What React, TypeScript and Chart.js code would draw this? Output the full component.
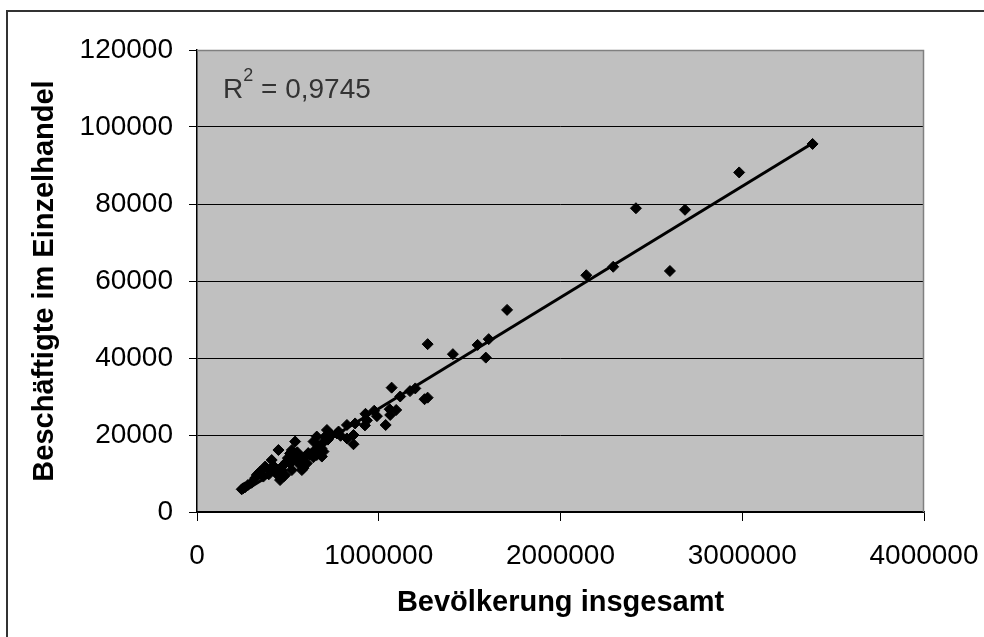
import React, { useEffect, useRef } from "react";
import { Chart, registerables } from "chart.js";

Chart.register(...registerables);

// Bevölkerung insgesamt (x) and Beschäftigte im Einzelhandel (y)
const bevoelkerung = [
  3387000, 2983000, 2415000, 2685000, 2602000, 2290000, 2142000, 1706000,
  1605000, 1544000, 1589000, 1408000, 1269000, 1071000, 1118000, 1172000,
  1201000, 1252000, 1269000, 927000, 975000, 990000, 924000, 1038000,
  1060000, 1096000, 1063000, 870000, 825000, 861000, 861000, 825000,
  770000, 715000, 705000, 659000, 641000, 696000, 659000, 595000,
  586000, 540000, 512000, 494000, 448000, 457000, 411000, 402000,
  338000, 320000, 255000, 246000, 264000, 467000, 567000, 522000,
  476000, 485000, 577000, 365000, 512000, 558000, 522000, 687000,
  375000, 476000, 604000, 329000, 347000, 300000, 280000, 430000,
  440000, 530000, 620000, 650000, 670000, 700000, 740000, 779000,
  935000, 612000, 580000, 395000, 420000, 500000, 552000, 640000,
  685000, 720000, 790000,
];
const beschaeftigte = [
  95600, 88200, 78900, 78500, 62600, 63700, 61500, 52500,
  44900, 43400, 40100, 41000, 43600, 32300, 30000, 31400,
  32100, 29300, 29700, 25500, 26300, 24900, 22500, 22600,
  26700, 26500, 25200, 23000, 22600, 20000, 17600, 19100,
  20400, 21300, 19600, 19600, 18300, 15700, 14800, 14400,
  11400, 18300, 15200, 13100, 16100, 8300, 13500, 10900,
  10000, 8800, 6200, 5900, 6400, 10900, 12200, 10900,
  9200, 9600, 10900, 9200, 12600, 13100, 16100, 14400,
  11800, 12200, 12600, 9600, 10500, 7600, 7000, 11300,
  9800, 13800, 14900, 16100, 17000, 18300, 20000, 20900,
  23800, 15300, 14000, 9800, 12000, 14000, 15500, 14200,
  16500, 18800, 19800,
];

// Linear trend line end points
const trendX = [250000, 3380000];
const trendY = [5200, 95600];

const xTicks = [0, 1000000, 2000000, 3000000, 4000000];
const yTicks = [0, 20000, 40000, 60000, 80000, 100000, 120000];

const xTitle = "Bevölkerung insgesamt";
const yTitle = "Beschäftigte im Einzelhandel";
const rSquaredLabel = "R";
const rSquaredSup = "2";
const rSquaredValue = " = 0,9745";

const FONT = "'Liberation Sans', Arial, Helvetica, sans-serif";

const decorPlugin = {
  id: "decor",
  beforeDraw(chart: any) {
    const { ctx, chartArea: a } = chart;
    ctx.save();
    ctx.fillStyle = "#ffffff";
    ctx.fillRect(0, 0, chart.width, chart.height);
    ctx.strokeStyle = "#333333";
    ctx.lineWidth = 2;
    ctx.strokeRect(7, 11, 1200, 900);
    ctx.fillStyle = "#C0C0C0";
    ctx.fillRect(a.left, a.top, a.right - a.left, a.bottom - a.top);
    ctx.restore();
  },
  beforeDatasetsDraw(chart: any) {
    const { ctx, chartArea: a } = chart;
    ctx.save();
    ctx.strokeStyle = "#808080";
    ctx.lineWidth = 1.5;
    ctx.beginPath();
    ctx.moveTo(a.left, a.top + 0.5);
    ctx.lineTo(a.right - 0.5, a.top + 0.5);
    ctx.lineTo(a.right - 0.5, a.bottom);
    ctx.stroke();

    ctx.fillStyle = "#333333";
    ctx.textBaseline = "alphabetic";
    ctx.textAlign = "left";
    let x = a.left + 26;
    const y = a.top + 48;
    ctx.font = `28px ${FONT}`;
    ctx.fillText(rSquaredLabel, x, y);
    x += ctx.measureText(rSquaredLabel).width;
    ctx.font = `18px ${FONT}`;
    ctx.fillText(rSquaredSup, x, y - 17);
    x += ctx.measureText(rSquaredSup).width;
    ctx.font = `28px ${FONT}`;
    ctx.fillText(rSquaredValue, x, y);
    ctx.restore();
  },
};

export default function App() {
  const canvasRef = useRef<HTMLCanvasElement | null>(null);

  useEffect(() => {
    const canvas = canvasRef.current;
    if (!canvas) return;
    const points = bevoelkerung.map((v, i) => ({ x: v, y: beschaeftigte[i] }));
    const trend = trendX.map((v, i) => ({ x: v, y: trendY[i] }));

    const chart = new Chart(canvas, {
      type: "scatter",
      data: {
        datasets: [
          {
            data: trend,
            showLine: true,
            borderColor: "#000000",
            borderWidth: 3,
            pointRadius: 0,
            order: 1,
          } as any,
          {
            data: points,
            pointStyle: "rectRot",
            pointRadius: 5.5,
            backgroundColor: "#000000",
            borderColor: "#000000",
            borderWidth: 1,
            order: 2,
          } as any,
        ],
      },
      options: {
        animation: false,
        responsive: false,
        events: [],
        layout: { padding: { top: 50, right: 60, left: 0, bottom: 0 } },
        plugins: {
          legend: { display: false },
          tooltip: { enabled: false },
        },
        scales: {
          x: {
            type: "linear",
            min: 0,
            max: 4000000,
            afterBuildTicks: (s: any) => {
              s.ticks = xTicks.map((v) => ({ value: v }));
            },
            afterFit: (s: any) => {
              s.height = 125;
              s.paddingLeft = 0;
              s.paddingRight = 0;
            },
            grid: {
              drawOnChartArea: false,
              drawTicks: true,
              tickLength: 9,
              tickColor: "#000000",
              tickWidth: 1,
            },
            border: { display: true, color: "#000000", width: 1.5 },
            ticks: {
              color: "#000000",
              font: { family: FONT, size: 28 },
              padding: 18.5,
              maxRotation: 0,
              autoSkip: false,
              callback: (v: any) => String(v),
            },
            title: {
              display: true,
              text: xTitle,
              color: "#000000",
              font: { family: FONT, size: 29, weight: "bold" },
              padding: { top: 0, bottom: 16.9 },
            },
          },
          y: {
            type: "linear",
            min: 0,
            max: 120000,
            afterBuildTicks: (s: any) => {
              s.ticks = yTicks.map((v) => ({ value: v }));
            },
            afterFit: (s: any) => {
              s.width = 197;
              s.paddingTop = 0;
              s.paddingBottom = 0;
            },
            grid: {
              color: (c: any) => (c.tick && c.tick.value === 120000 ? "#808080" : "#000000"),
              lineWidth: 1,
              drawTicks: true,
              tickLength: 8,
              tickColor: "#000000",
              tickWidth: 1,
            },
            border: { display: true, color: "#000000", width: 1.5 },
            ticks: {
              color: "#000000",
              font: { family: FONT, size: 28 },
              padding: 16,
              autoSkip: false,
              callback: (v: any) => String(v),
            },
            title: {
              display: true,
              text: yTitle,
              color: "#000000",
              font: { family: FONT, size: 29, weight: "bold" },
              padding: { top: 27.6, bottom: 0 },
            },
          },
        },
      } as any,
      plugins: [decorPlugin],
    });

    return () => {
      chart.destroy();
    };
  }, []);

  return (
    <div style={{ position: "absolute", left: 0, top: 0, width: 984, height: 637, background: "#fff" }}>
      <canvas ref={canvasRef} width={984} height={637} style={{ width: 984, height: 637, display: "block" }} />
    </div>
  );
}
